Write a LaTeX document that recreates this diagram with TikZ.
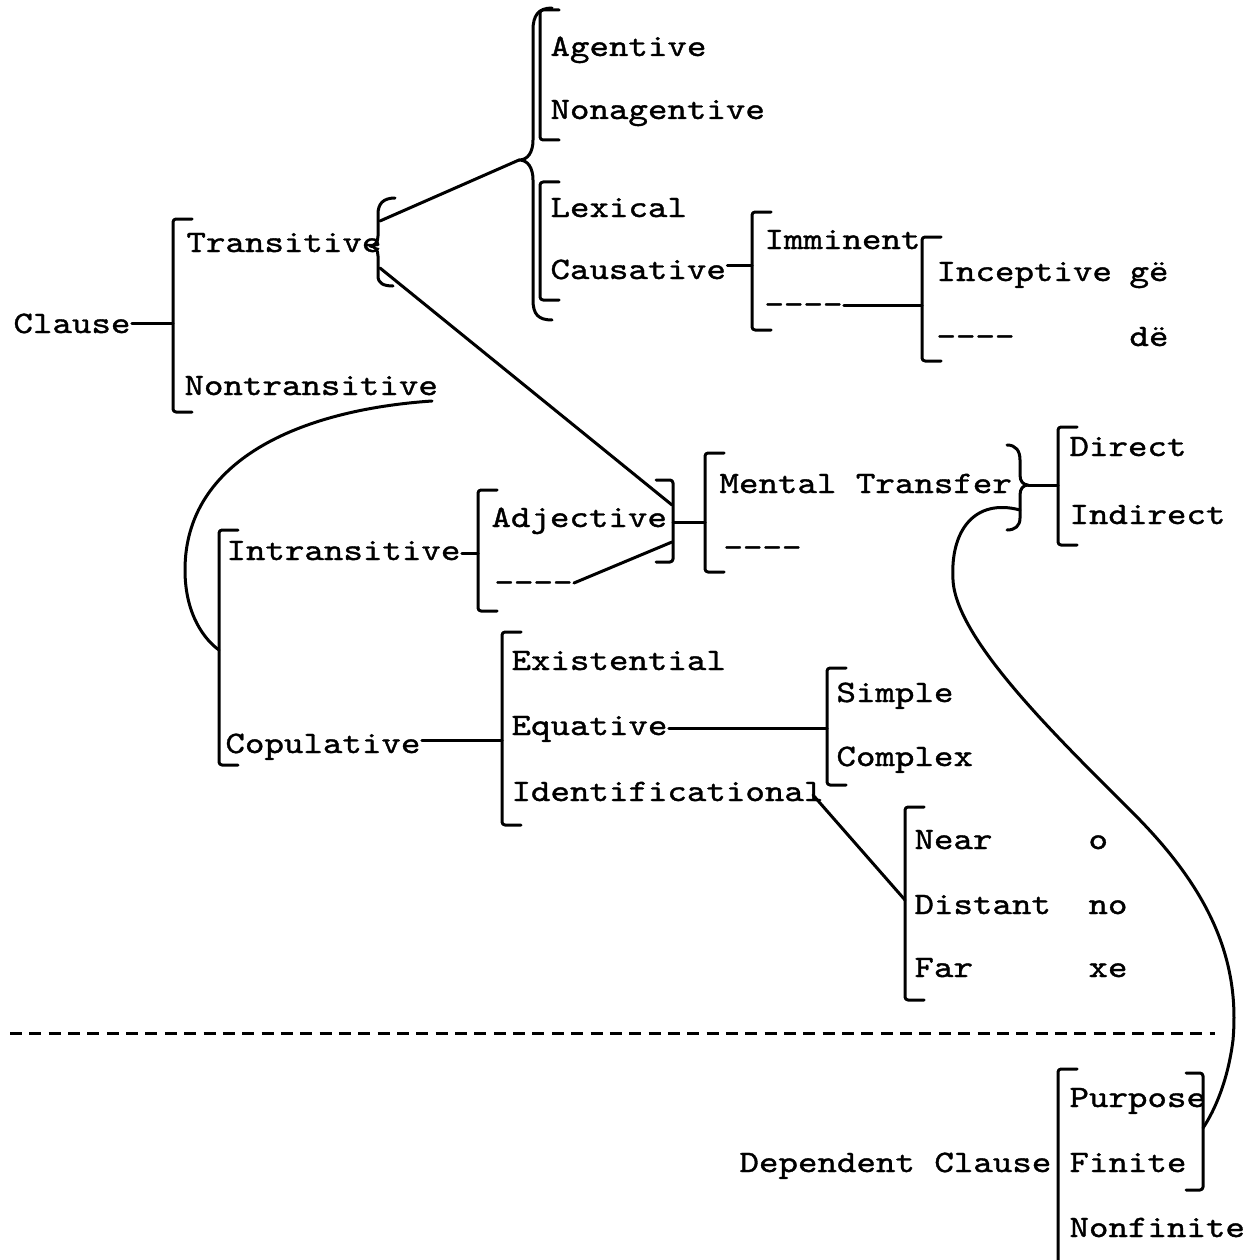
\documentclass[tikz,border=0pt]{standalone}
\usepackage{fontspec}
\newfontfamily\tw[Extension=.otf,FakeStretch=1.19,FakeBold=1.2,Ligatures=TeXOff]{lmmono10-regular}
\newcommand\LBrk[3]{\draw[brk] ({#1+19},#2) -- (#1,#2) -- (#1,#3) -- ({#1+19},#3);}
\newcommand\RBrk[3]{\draw[brk] ({#1-17},#2) -- (#1,#2) -- (#1,#3) -- ({#1-17},#3);}
\begin{document}
\begin{tikzpicture}[x=1pt,y=-1pt,line width=3pt,line cap=round,line join=round,
  lab/.style={anchor=base west,inner sep=0pt,font=\tw\fontsize{31.2}{36}\selectfont},
  brk/.style={rounded corners=3pt}]
\useasboundingbox (0,0) rectangle (1248,1260);

% ---- labels ----
\node[lab] (clause)    at (12,333)   {Clause};
\node[lab] (trans)     at (185,252)  {Transitive};
\node[lab] (nontrans)  at (183,395)  {Nontransitive};
\node[lab] (agent)     at (549,56)   {Agentive};
\node[lab] (nonagent)  at (549,119)  {Nonagentive};
\node[lab] (lexical)   at (549,217)  {Lexical};
\node[lab] (causative) at (549,279)  {Causative};
\node[lab] (imminent)  at (763,249)  {Imminent};
\node[lab] (immgap)    at (763,314)  {----};
\node[lab] (inceptive) at (935,281)  {Inceptive};
\node[lab] (ge)        at (1128,281) {gë};
\node[lab] (incgap)    at (935,346)  {----};
\node[lab] (de)        at (1128,346) {dë};
\node[lab] (intrans)   at (225,560)  {Intransitive};
\node[lab] (copul)     at (224,753)  {Copulative};
\node[lab] (adj)       at (490,527)  {Adjective};
\node[lab] (adjgap)    at (493,592)  {----};
\node[lab] (mental)    at (718,493)  {Mental Transfer};
\node[lab] (mentgap)   at (722,557)  {----};
\node[lab] (direct)    at (1068,456) {Direct};
\node[lab] (indirect)  at (1068,524) {Indirect};
\node[lab] (exist)     at (510,670)  {Existential};
\node[lab] (equat)     at (510,735)  {Equative};
\node[lab] (ident)     at (510,801)  {Identificational};
\node[lab] (simple)    at (835,702)  {Simple};
\node[lab] (complex)   at (835,766)  {Complex};
\node[lab] (near)      at (913,849)  {Near};
\node[lab] (nearf)     at (1087,849) {o};
\node[lab] (distant)   at (913,914)  {Distant};
\node[lab] (distf)     at (1087,914) {no};
\node[lab] (far)       at (913,977)  {Far};
\node[lab] (farf)      at (1087,977) {xe};
\node[lab] (depcl)     at (738,1172) {Dependent Clause};
\node[lab] (purpose)   at (1068,1107){Purpose};
\node[lab] (finite)    at (1068,1172){Finite};
\node[lab] (nonfinite) at (1068,1237){Nonfinite};

% ---- square brackets ----
\LBrk{173}{219}{412}
\LBrk{540}{10}{140}
\LBrk{540}{182}{300}
\LBrk{752}{212}{330}
\LBrk{922}{237}{361}
\LBrk{219}{530}{765}
\LBrk{478}{490}{611}
\LBrk{502}{632}{825}
\LBrk{827}{668}{785}
\LBrk{905}{807}{1000}
\LBrk{705}{453}{572}
\LBrk{1058}{427}{545}
\draw[brk] (1077,1069) -- (1058,1069) -- (1058,1275);
\RBrk{673}{480}{562}
\RBrk{1203}{1073}{1190}

% ---- curly braces ----
\draw (395,198) .. controls (383,198) and (378,204) .. (378,214) -- (378,236)
  .. controls (378,242) and (375,246) .. (370,246)
  .. controls (375,246) and (378,250) .. (378,256) -- (378,276)
  .. controls (378,283) and (383,286) .. (393,286);
\draw (552,8) .. controls (538,8) and (533,16) .. (533,30) -- (533,140)
  .. controls (533,152) and (528,160) .. (519,160)
  .. controls (528,160) and (533,168) .. (533,180) -- (533,300)
  .. controls (533,314) and (538,320) .. (552,320);
\draw (1007,445) .. controls (1016,445) and (1020,451) .. (1020,460) -- (1020,475)
  .. controls (1020,481) and (1023,485) .. (1028,485)
  .. controls (1023,485) and (1020,489) .. (1020,495) -- (1020,518)
  .. controls (1020,526) and (1015,530) .. (1007,530);

% ---- connector end points ----
\coordinate (clB)    at (173,323);
\coordinate (trU)    at (380,221);
\coordinate (trL)    at (380,268);
\coordinate (agCusp) at (519,160);
\coordinate (adjRU)  at (672,505);
\coordinate (immB)   at (752,265);
\coordinate (incB)   at (922,305);
\coordinate (intB)   at (478,553);
\coordinate (adjRL)  at (672,542);
\coordinate (adjRM)  at (673,522);
\coordinate (mtB)    at (705,522);
\coordinate (exB)    at (502,740);
\coordinate (siB)    at (827,728);
\coordinate (idE)    at (813,795);
\coordinate (neB)    at (905,900);
\coordinate (mtCusp) at (1028,485);
\coordinate (diB)    at (1058,485);
\coordinate (ntE)    at (432,401);
\coordinate (icB)    at (219,650);
\coordinate (mtLow)  at (1020,510);
\coordinate (puR)    at (1203,1128);
\coordinate (sepL)   at (10,1033);
\coordinate (sepR)   at (1215,1033);

% ---- connectors ----
\draw (clause.east |- clB) -- (clB);
\draw (trU) -- (agCusp);
\draw (trL) -- (adjRU);
\draw (causative.east |- immB) -- (immB);
\draw (immgap.east |- incB) -- (incB);
\draw (intrans.east |- intB) -- (intB);
\draw (adjgap.east |- 0,583) -- (adjRL);
\draw (adjRM) -- (mtB);
\draw (copul.east |- exB) -- (exB);
\draw (equat.east |- siB) -- (siB);
\draw (idE) -- (neB);
\draw (mtCusp) -- (diB);
\draw (ntE) .. controls (300,410) and (185,460) .. (185,570)
  .. controls (185,615) and (205,640) .. (icB);
\draw (mtLow) .. controls (975,498) and (950,530) .. (953,580)
  .. controls (956,640) and (1060,740) .. (1133,813)
  .. controls (1210,890) and (1240,960) .. (1233,1040)
  .. controls (1228,1080) and (1215,1110) .. (puR);
\draw[line cap=butt,dash pattern=on 12pt off 7.35pt] (sepL) -- (sepR);
\end{tikzpicture}
\end{document}
